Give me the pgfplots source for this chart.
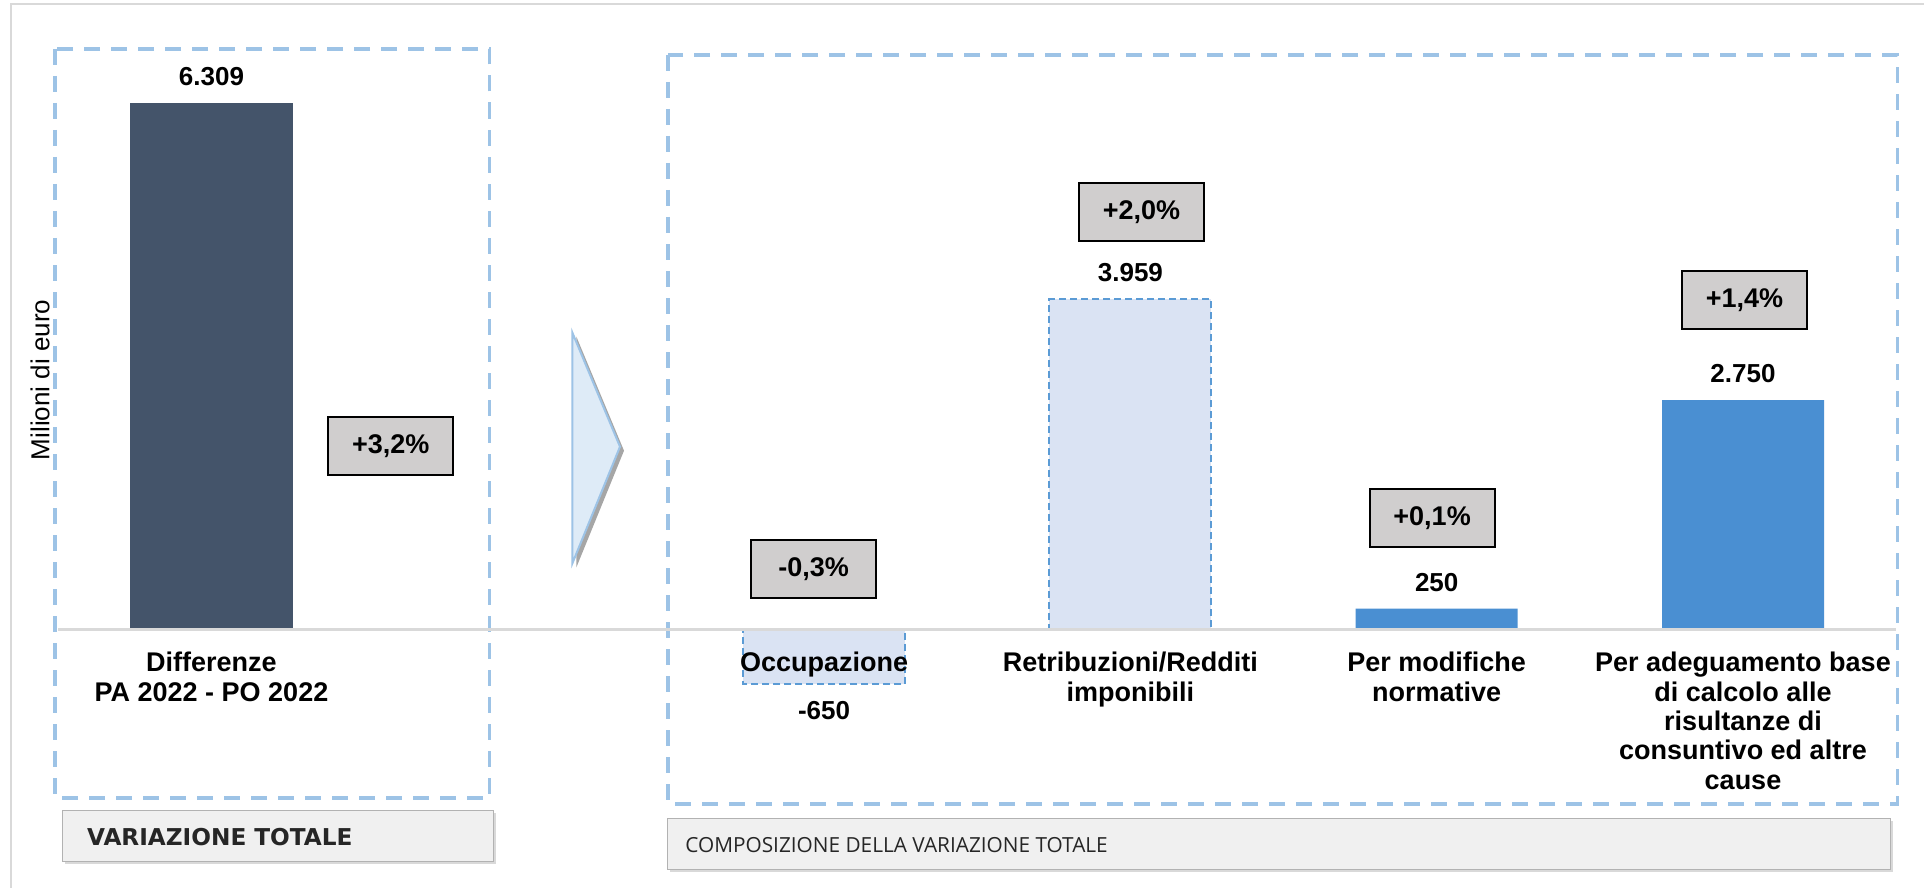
\documentclass[border=0pt]{standalone}
\usepackage{fontspec}
\setmainfont{Liberation Sans}
\newfontfamily\boxfont{DejaVu Sans}
\newfontfamily\capfont{Open Sans}
\usepackage{pgfplots}
\pgfplotsset{compat=1.18}
\usetikzlibrary{shadows}

\definecolor{slate}{HTML}{44546A}
\definecolor{lightbar}{HTML}{DAE3F3}
\definecolor{barblue}{HTML}{4A8FD2}
\definecolor{dashblue}{HTML}{5B9BD5}
\definecolor{frameblue}{HTML}{9DC3E6}
\definecolor{pctgray}{HTML}{D0CECE}
\definecolor{arrowfill}{HTML}{DEEBF7}

\tikzset{
  pct/.style={draw=black, line width=1pt, fill=pctgray, minimum width=62.5pt,
    minimum height=29pt, inner sep=0pt, font=\bfseries\fontsize{13.5}{15}\selectfont},
  panel/.style={draw=frameblue, line width=1.7pt, dash pattern=on 8pt off 5.5pt},
}

\begin{document}
\begin{tikzpicture}
% decorations, in pixel units of the reference (y downwards)
\begin{scope}[x=0.5pt,y=-0.5pt]
  \path[use as bounding box, fill=white] (0,0) rectangle (1924,888);
  \draw[black!15, line width=1.2pt] (11,888) -- (11,4.3) -- (1924,4.3);
  \draw[panel] (55,49) rectangle (489.5,798);
  \draw[panel] (668,55) rectangle (1897.5,804);
  % header boxes
  \fill[black!15] (65,813) rectangle (495.5,864);
  \draw[black!30, fill=black!6, line width=0.6pt] (62.7,810.7) rectangle (493.3,861.7);
  \node[anchor=west, inner sep=0pt, text=black!85, font=\boxfont\bfseries\fontsize{11.6}{13}\selectfont]
    at (86.7,837.5) {VARIAZIONE TOTALE};
  \fill[black!15] (669.5,820.5) rectangle (1893,872);
  \draw[black!30, fill=black!6, line width=0.6pt] (667.3,818.3) rectangle (1890.7,869.5);
  \node[anchor=west, inner sep=0pt, text=black!85, font=\capfont\fontsize{10.4}{12}\selectfont]
    at (685,845) {COMPOSIZIONE DELLA VARIAZIONE TOTALE};
  % arrow
  \filldraw[fill=arrowfill, draw=frameblue, line width=1pt,
    drop shadow={shadow xshift=2pt, shadow yshift=-2pt, opacity=0.35, fill=black}]
    (572.4,332.7) -- (620,446.7) -- (572.4,563.3) -- cycle;
\end{scope}

\begin{axis}[
  at={(29.175pt,-444.02pt)}, anchor=south west,
  scale only axis, width=918.9pt, height=442.02pt,
  xmin=-0.5, xmax=5.5, ymin=-3100, ymax=7500,
  clip=false, axis on top,
  axis x line=middle, axis y line=none,
  x axis line style={-, draw=black!15, line width=1.2pt},
  xtick={0,2,3,4,5},
  xticklabels={{Differenze\\PA 2022 - PO 2022}, Occupazione, {Retribuzioni/Redditi\\imponibili},
    {Per modifiche\\normative}, {Per adeguamento base\\di calcolo alle\\risultanze di\\consuntivo ed altre\\cause}},
  xticklabel style={align=center, anchor=north, inner sep=0pt, yshift=-11.25pt,
    font=\bfseries\fontsize{13.5}{14.65}\selectfont},
  major tick length=0pt, ytick=\empty,
  point meta=explicit symbolic,
  nodes near coords,
  every node near coord/.append style={inner sep=8.5pt, anchor=south, font=\bfseries\fontsize{13}{15}\selectfont},
  lightbars/.style={ybar, bar width=81pt, bar shift=0pt, fill=lightbar, draw=dashblue,
    line width=1pt, dash pattern=on 3.5pt off 2pt},
]
\addplot[ybar, bar width=81pt, bar shift=0pt, fill=slate, draw=none]
  coordinates {(0,6309) [6.309]};
\addplot[lightbars, every node near coord/.append style={anchor=north}]
  coordinates {(2,-650) [-650]};
\addplot[lightbars]
  coordinates {(3,3959) [3.959]};
\addplot[ybar, bar width=81pt, bar shift=0pt, fill=barblue, draw=none]
  coordinates {(4,250) [250] (5,2750) [2.750]};

\node[pct] at (axis cs:0.585,2195) {+3,2\%};
\node[pct] at (axis cs:1.966,725) {-0,3\%};
\node[pct] at (axis cs:3.036,5007) {+2,0\%};
\node[pct] at (axis cs:3.985,1333) {+0,1\%};
\node[pct] at (axis cs:5.005,3951) {+1,4\%};
\node[rotate=90, font=\fontsize{13}{15}\selectfont] at (axis cs:-0.56,2992) {Milioni di euro};
\end{axis}
\end{tikzpicture}
\end{document}
